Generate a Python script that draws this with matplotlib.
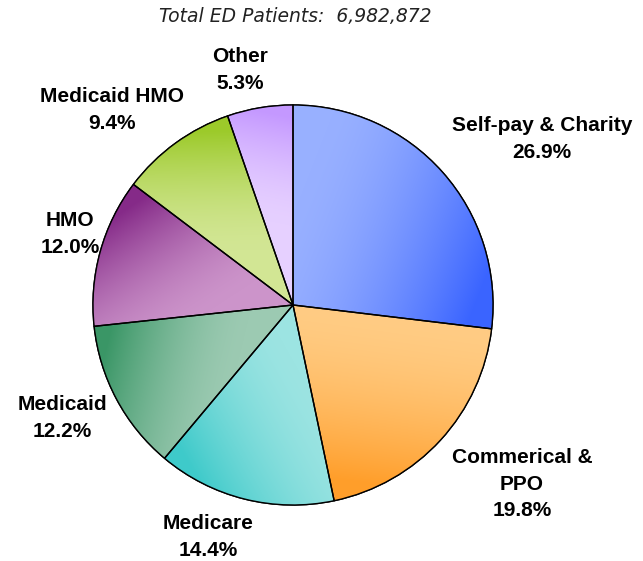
import matplotlib.pyplot as plt
import numpy as np
from matplotlib.colors import to_rgb
from matplotlib.patches import Wedge

labels = ["Self-pay & Charity", "Commerical &\nPPO", "Medicare", "Medicaid",
          "HMO", "Medicaid HMO", "Other"]
shares = [26.9, 19.8, 14.4, 12.2, 12.0, 9.4, 5.3]
light = ["#98B0FF", "#FFCC84", "#9CE4E2", "#9CCAB2", "#CC94CA", "#D2E694", "#E6D0FF"]
dark = ["#3A64FF", "#FF9E2A", "#3ECACA", "#3A9666", "#852A88", "#9CCA2A", "#C498FF"]
# label anchor (pixels from top-left)
label_pos = [(542, 139), (522, 484), (208, 537), (62, 418), (70, 234), (112, 110), (240, 70)]

W, H = 643, 561
cx, cy, R = 293, 561 - 305, 200

fig = plt.figure(figsize=(W / 100, H / 100), dpi=100)
ax = fig.add_axes([0, 0, 1, 1])

wedges, _ = ax.pie(shares, startangle=90, counterclock=False, center=(cx, cy),
                   radius=R, colors=light,
                   wedgeprops=dict(edgecolor="black", linewidth=1.0))

xs = np.linspace(cx - R, cx + R, 400)
ys = np.linspace(cy - R, cy + R, 400)
X, Y = np.meshgrid(xs, ys)
for w, lc, dc in zip(wedges, light, dark):
    t1, t2 = np.radians(w.theta1), np.radians(w.theta2)
    # light side: ccw edge near center, dark side: cw edge near rim
    a = np.array([cx + 0.45 * R * np.cos(t2), cy + 0.45 * R * np.sin(t2)])
    b = np.array([cx + 0.95 * R * np.cos(t1 + 0.12 * (t2 - t1)),
                  cy + 0.95 * R * np.sin(t1 + 0.12 * (t2 - t1))])
    d = b - a
    t = ((X - a[0]) * d[0] + (Y - a[1]) * d[1]) / (d @ d)
    t = np.clip(t, 0, 1) ** 1.6
    img = (np.array(to_rgb(lc))[None, None, :] * (1 - t[..., None])
           + np.array(to_rgb(dc))[None, None, :] * t[..., None])
    im = ax.imshow(img, extent=(cx - R, cx + R, cy - R, cy + R), origin="lower",
                   zorder=w.get_zorder() + 0.1, interpolation="bilinear")
    im.set_clip_path(w)
    ax.add_patch(Wedge((cx, cy), R, w.theta1, w.theta2, facecolor="none",
                       edgecolor="black", linewidth=1.0, zorder=w.get_zorder() + 0.2))

for lab, s, (px, py) in zip(labels, shares, label_pos):
    ax.text(px, H - py, f"{lab}\n{s:.1f}%", ha="center", va="center",
            fontsize=15, fontweight="bold", family="Liberation Sans",
            linespacing=1.5)

ax.text(295, H - 16, "Total ED Patients:  6,982,872", ha="center", va="center",
        fontsize=13.5, style="italic", family="DejaVu Sans", color="#222222")

ax.set_xlim(0, W)
ax.set_ylim(0, H)
ax.set_aspect("equal")
ax.axis("off")
fig.savefig("out.png", dpi=100)
